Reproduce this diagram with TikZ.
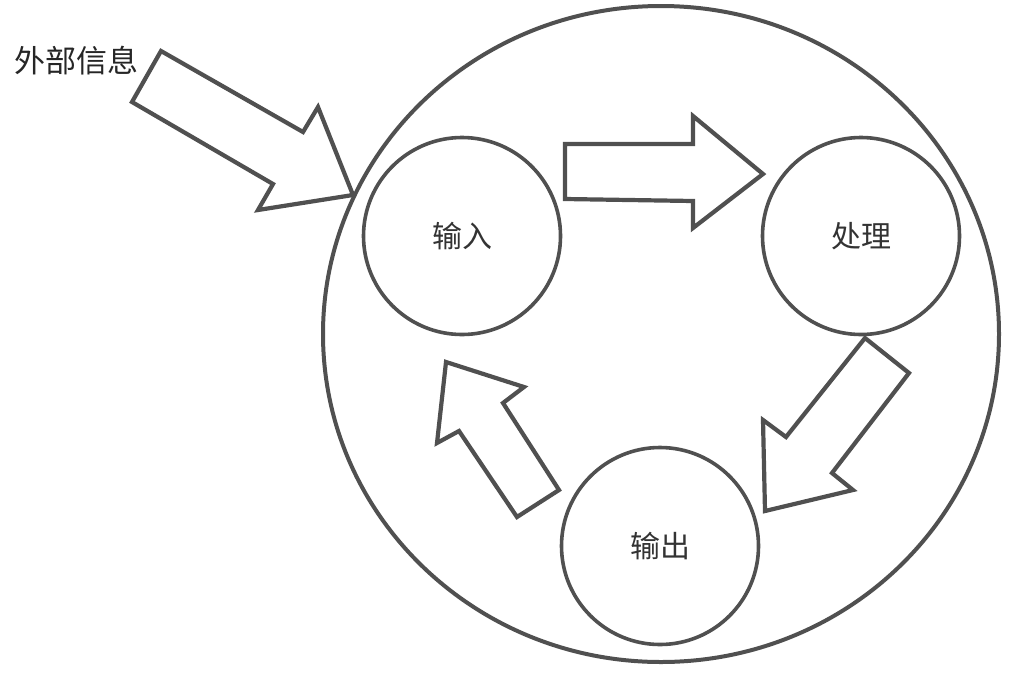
\documentclass[tikz,border=0pt]{standalone}
\usepackage{fontspec}
\setmainfont{Noto Sans CJK SC}
\usepackage{tikz}
\usetikzlibrary{shapes.geometric}
\definecolor{ink}{RGB}{80,80,80}

\begin{document}
\begin{tikzpicture}[x=1pt, y=-1pt, line width=3.5pt, line join=round,
  stage/.style={circle, draw=ink, line width=3.6pt, minimum size=197pt, inner sep=0pt, font=\fontsize{30}{34}\selectfont, text=black!80},
  blockarrow/.style={draw=ink, fill=white, line width=4.2pt, line join=miter}]
\useasboundingbox (0,0) rectangle (1012,673);
% system boundary
\node[ellipse, draw=ink, line width=4pt, minimum width=676pt, minimum height=656pt, inner sep=0pt] (sys) at (661,334) {};
% stages
\node[stage] (in) at (462,236) {输入};
\node[stage] (proc) at (861,236) {处理};
\node[stage] (out) at (660,546) {输出};
% outside input
\node[font=\fontsize{31}{35}\selectfont, text=black!85] (ext) at (76,61) {外部信息};
% block arrows
\draw[blockarrow] (161,51) -- (303,132) -- (318,107) -- (353,195) -- (258,210) -- (273,184) -- (132,102) -- cycle;
\draw[blockarrow] (565,144) -- (693,144) -- (693,116) -- (763,174) -- (693,228) -- (693,201) -- (565,199) -- cycle;
\draw[blockarrow] (865,338) -- (909,373) -- (832,473) -- (853,490) -- (765,511) -- (763,420) -- (786,437) -- cycle;
\draw[blockarrow] (446,362) -- (524,387) -- (503,403) -- (559,490) -- (517,517) -- (459,431) -- (437,443) -- cycle;
\end{tikzpicture}
\end{document}
